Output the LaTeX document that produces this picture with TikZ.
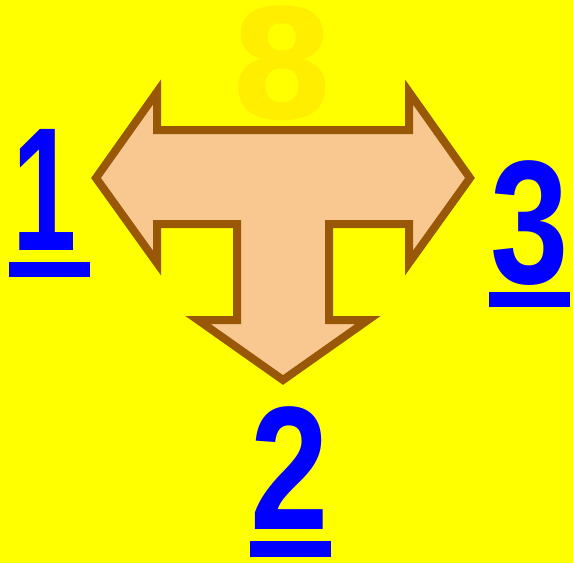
\documentclass[tikz,border=0pt]{standalone}
\usepackage{fontspec}
\setmainfont{Liberation Sans}
\newfontfamily\ghostfont{DejaVu Sans}
\usetikzlibrary{positioning}
\definecolor{bgyellow}{HTML}{FFFF00}
\definecolor{ghost}{HTML}{FFEE00}
\definecolor{arrowfill}{HTML}{F8C890}
\definecolor{arrowline}{HTML}{985808}
\definecolor{numblue}{HTML}{0000FF}
\tikzset{num/.style={font=\fontsize{176}{176}\bfseries\selectfont, text=numblue, inner sep=0pt, anchor=base, xscale=.8}, uline/.style={fill=numblue}, tarrow/.style={draw=arrowline, fill=arrowfill, line width=8pt, line join=miter}}

\begin{document}
\begin{tikzpicture}[x=1pt,y=-1pt]
\fill[bgyellow] (0,0) rectangle (573,563);
\useasboundingbox (0,0) rectangle (573,563);
\node[font=\fontsize{152}{152}\ghostfont\bfseries\selectfont, text=ghost, inner sep=0pt, anchor=base] (eight) at (282,118) {8};
\draw[tarrow] (96,178) -- (157,92) -- (157,130) -- (409,130) -- (409,92) -- (470,178) -- (409,263) -- (409,224) -- (329,224) -- (329,320) -- (368,320) -- (283,380) -- (198,320) -- (237,320) -- (237,224) -- (157,224) -- (157,263) -- cycle;
\node[num, xscale=.82] (one) at (45,250) {1};
\fill[uline] (9,262) rectangle (90,277);
\node[num] (three) at (530,283) {3};
\fill[uline] (489,292) rectangle (570,307);
\node[num] (two) at (290,529) {2};
\fill[uline] (250,541) rectangle (331,557);
\end{tikzpicture}
\end{document}
